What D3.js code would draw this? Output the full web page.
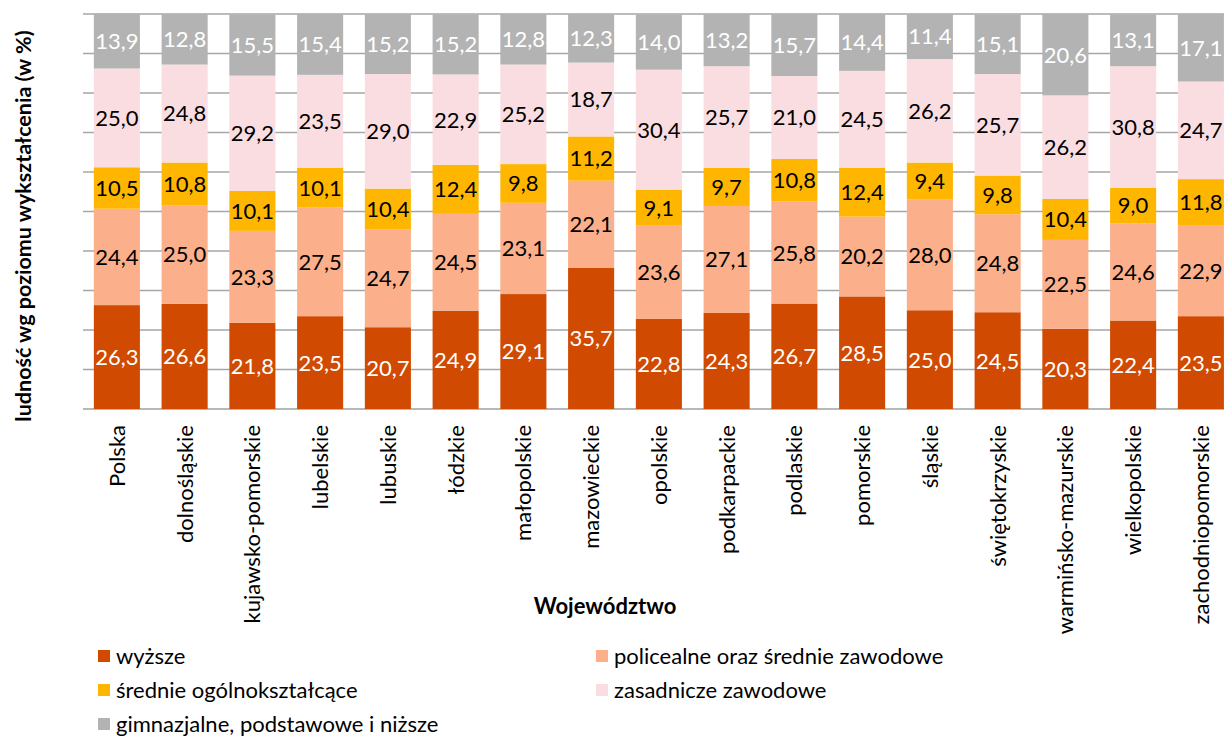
<!DOCTYPE html>
<html><head><meta charset="utf-8">
<script src="https://cdn.jsdelivr.net/npm/d3@7"></script>
<style>body{margin:0;background:#fff}svg{display:block}</style>
</head><body><svg id="c" width="1224" height="738"></svg>
<script>
const categories = ["Polska","dolnośląskie","kujawsko-pomorskie","lubelskie","lubuskie","łódzkie","małopolskie","mazowieckie","opolskie","podkarpackie","podlaskie","pomorskie","śląskie","świętokrzyskie","warmińsko-mazurskie","wielkopolskie","zachodniopomorskie"];
const seriesNames = ["wyższe","policealne oraz średnie zawodowe","średnie ogólnokształcące","zasadnicze zawodowe","gimnazjalne, podstawowe i niższe"];
const wyzsze      = [26.3,26.6,21.8,23.5,20.7,24.9,29.1,35.7,22.8,24.3,26.7,28.5,25.0,24.5,20.3,22.4,23.5];
const policealne  = [24.4,25.0,23.3,27.5,24.7,24.5,23.1,22.1,23.6,27.1,25.8,20.2,28.0,24.8,22.5,24.6,22.9];
const srednieOgol = [10.5,10.8,10.1,10.1,10.4,12.4,9.8,11.2,9.1,9.7,10.8,12.4,9.4,9.8,10.4,9.0,11.8];
const zasadnicze  = [25.0,24.8,29.2,23.5,29.0,22.9,25.2,18.7,30.4,25.7,21.0,24.5,26.2,25.7,26.2,30.8,24.7];
const gimnazjalne = [13.9,12.8,15.5,15.4,15.2,15.2,12.8,12.3,14.0,13.2,15.7,14.4,11.4,15.1,20.6,13.1,17.1];
const yTicks = [0,10,20,30,40,50,60,70,80,90,100];
const colors = ["#D04A02","#FBB08B","#FFB600","#F9DDE0","#B3B3B3"];
const labelColors = ["#ffffff","#000000","#000000","#000000","#ffffff"];

const allSeries = [wyzsze, policealne, srednieOgol, zasadnicze, gimnazjalne];
const rows = categories.map((c,i)=>{const o={cat:c}; seriesNames.forEach((s,k)=>o[s]=allSeries[k][i]); return o;});
const stacked = d3.stack().keys(seriesNames)(rows);

const FONT = "Lato, 'Open Sans', sans-serif";
const FS = 22;
const svg = d3.select("#c");
const x = d3.scaleBand().domain(categories).range([83, 1234.75]).paddingInner(0.32).paddingOuter(0.16);
const y = d3.scaleLinear().domain([0,100]).range([409, 14]);

// gridlines
svg.append("g").selectAll("line").data(yTicks).join("line")
  .attr("x1",83).attr("x2",1224).attr("y1",d=>y(d)).attr("y2",d=>y(d))
  .attr("stroke",d=>d===0?"#A0A0A0":"#A6A6A6").attr("stroke-width",1.5);

// bars
const g = svg.append("g");
stacked.forEach((layer,k)=>{
  g.append("g").selectAll("rect").data(layer).join("rect")
    .attr("x",d=>x(d.data.cat)).attr("width",x.bandwidth())
    .attr("y",d=>y(d[1])).attr("height",d=>y(d[0])-y(d[1]))
    .attr("fill",colors[k]);
});
// labels
stacked.forEach((layer,k)=>{
  g.append("g").selectAll("text").data(layer).join("text")
    .attr("x",d=>x(d.data.cat)+x.bandwidth()/2)
    .attr("y",d=>(y(d[0])+y(d[1]))/2)
    .attr("dy","0.36em").attr("text-anchor","middle")
    .attr("font-family",FONT).attr("font-size",FS)
    .attr("fill",labelColors[k])
    .text(d=>(d[1]-d[0]).toFixed(1).replace(".",","));
});

// x axis labels
svg.append("g").selectAll("text").data(categories).join("text")
  .attr("transform",d=>`translate(${x(d)+x.bandwidth()/2},425) rotate(-90)`)
  .attr("text-anchor","end").attr("dy","0.36em")
  .attr("font-family",FONT).attr("font-size",FS).attr("fill","#000")
  .text(d=>d);

// axis titles
svg.append("text").attr("transform","translate(23,226) rotate(-90)")
  .attr("text-anchor","middle").attr("dy","0.36em")
  .attr("font-family",FONT).attr("font-weight","bold").attr("font-size",21.5).attr("fill","#000")
  .text("ludność wg poziomu wykształcenia (w %)");
svg.append("text").attr("x",605).attr("y",606).attr("dy","0.36em")
  .attr("text-anchor","middle").attr("font-family",FONT).attr("font-weight","bold")
  .attr("font-size",22).attr("fill","#000").text("Województwo");

// legend
const legPos = [[98,656],[596,656],[98,690],[596,690],[98,724]];
const leg = svg.append("g").selectAll("g").data(seriesNames).join("g")
  .attr("transform",(d,i)=>`translate(${legPos[i][0]},${legPos[i][1]})`);
leg.append("rect").attr("x",0).attr("y",-6).attr("width",12).attr("height",12).attr("fill",(d,i)=>colors[i]);
leg.append("text").attr("x",18).attr("dy","0.36em").attr("font-family",FONT).attr("font-size",FS)
  .attr("fill","#000").text(d=>d);
</script></body></html>
